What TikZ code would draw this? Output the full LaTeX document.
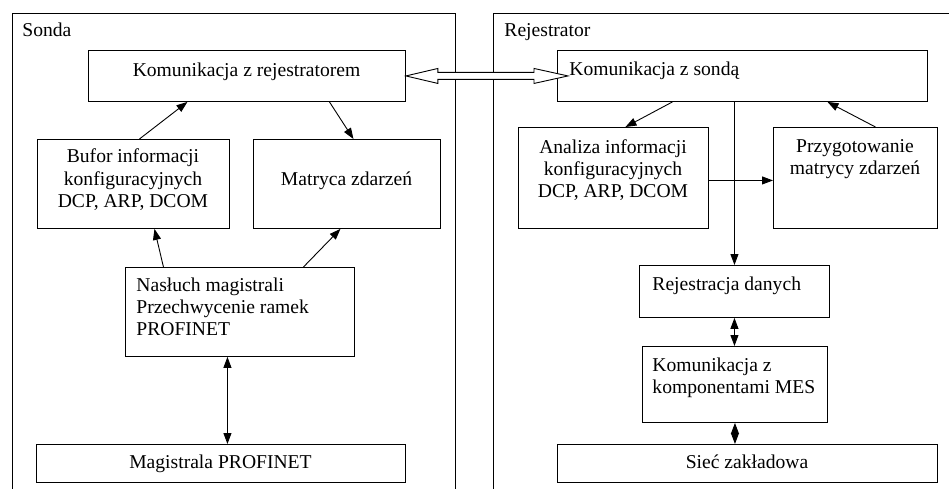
\documentclass[tikz,border=0pt]{standalone}
\usepackage{fontspec}
\setmainfont{Liberation Serif}
\usetikzlibrary{arrows.meta,calc}

\begin{document}
\begin{tikzpicture}[x=1pt, y=-1pt, line width=0.9pt]
\tikzset{box/.style = {draw, anchor=north west, inner sep=0pt}}
\tikzset{txt/.style = {inner sep=0pt, anchor=base, font=\fontsize{19.6}{22}\selectfont}}
\tikzset{edge/.style = {-{Triangle[length=11pt,width=8pt]}}}
\tikzset{both/.style = {{Triangle[length=11pt,width=8pt]}-{Triangle[length=11pt,width=8pt]}}}

\useasboundingbox (0,0) rectangle (949,489);

% panels
\draw (12,489) -- (12,13) -- (455,13) -- (455,489);
\draw (493,489) -- (493,13) -- (949,13);
\node[txt, anchor=base west] (sonda) at (22,37) {Sonda};
\node[txt, anchor=base west] (rej) at (504,37) {Rejestrator};

% sonda (base of multi-line text = last line)
\node[box, minimum width=317, minimum height=51] (kr) at (88,50) {};
\node[box, minimum width=192, minimum height=89] (bf) at (37,139) {};
\node[box, minimum width=187, minimum height=89] (mz) at (253,139) {};
\node[box, minimum width=229, minimum height=89] (ns) at (125,267) {};
\node[box, minimum width=369, minimum height=38] (mg) at (36,444) {};

\node[txt] (krt) at (246.5,77) {Komunikacja z rejestratorem};
\node[txt, align=center] (bft) at (133,207) {Bufor informacji\\konfiguracyjnych\\DCP, ARP, DCOM};
\node[txt] (mzt) at (346.5,185) {Matryca zdarzeń};
\node[txt, anchor=base west, align=left] (nst) at (136,335) {Nasłuch magistrali\\Przechwycenie ramek\\PROFINET};
\node[txt] (mgt) at (220.5,468) {Magistrala PROFINET};

% rejestrator
\node[box, minimum width=370, minimum height=51] (ks) at (557,50) {};
\node[box, minimum width=190, minimum height=101] (an) at (518,127) {};
\node[box, minimum width=164, minimum height=101] (pz) at (773,127) {};
\node[box, minimum width=190, minimum height=52] (rd) at (639,265) {};
\node[box, minimum width=185, minimum height=76] (km) at (642,346) {};
\node[box, minimum width=380, minimum height=38] (sz) at (557,444) {};

\node[txt, anchor=base west] (kst) at (569,76) {Komunikacja z sondą};
\node[txt, align=center] (ant) at (613,197) {Analiza informacji\\konfiguracyjnych\\DCP, ARP, DCOM};
\node[txt, align=center] (pzt) at (855,175) {Przygotowanie\\matrycy zdarzeń};
\node[txt, anchor=base west] (rdt) at (652,290) {Rejestracja danych};
\node[txt, anchor=base west, align=left] (kmt) at (652,393) {Komunikacja z\\komponentami MES};
\node[txt] (szt) at (747,468) {Sieć zakładowa};

% hollow arrow between the two sides
\coordinate (hl) at (kr.east);
\coordinate (hr) at ($(ks.west)+(11,0)$);
\draw[fill=white] (hl) -- ++(32,-7.5) -- ++(0,4) -- ($(hr)+(-34,-3.5)$) -- ++(0,-4)
   -- (hr) -- ++(-34,7.5) -- ++(0,-4) -- ($(hl)+(32,3.5)$) -- ++(0,4) -- cycle;

\draw[edge] ([xshift=6pt]bf.north) -- ([xshift=-59.5pt]kr.south);
\draw[edge] ([xshift=82.5pt]kr.south) -- ([xshift=6.5pt]mz.north);
\draw[edge] ([xshift=-76.5pt]ns.north) -- ([xshift=21pt]bf.south);
\draw[edge] ([xshift=63.5pt]ns.north) -- ([xshift=-6.5pt]mz.south);
\draw[both] ([xshift=-12.5pt]ns.south) -- ([xshift=-12.5pt]ns.south |- mg.north);

\draw[edge] ([xshift=-70pt]ks.south) -- ([xshift=12pt]an.north);
\draw[edge] ([xshift=20pt]pz.north) -- ([xshift=85pt]ks.south);
\draw[edge] ([yshift=-2.5pt]an.east) -- ([yshift=-2.5pt]pz.west);
\draw[edge] (rd.north |- ks.south) -- (rd.north);
\draw[both] (rd.south) -- (rd.south |- km.north);
\draw[both] (km.south) -- (km.south |- sz.north);

\end{tikzpicture}
\end{document}
